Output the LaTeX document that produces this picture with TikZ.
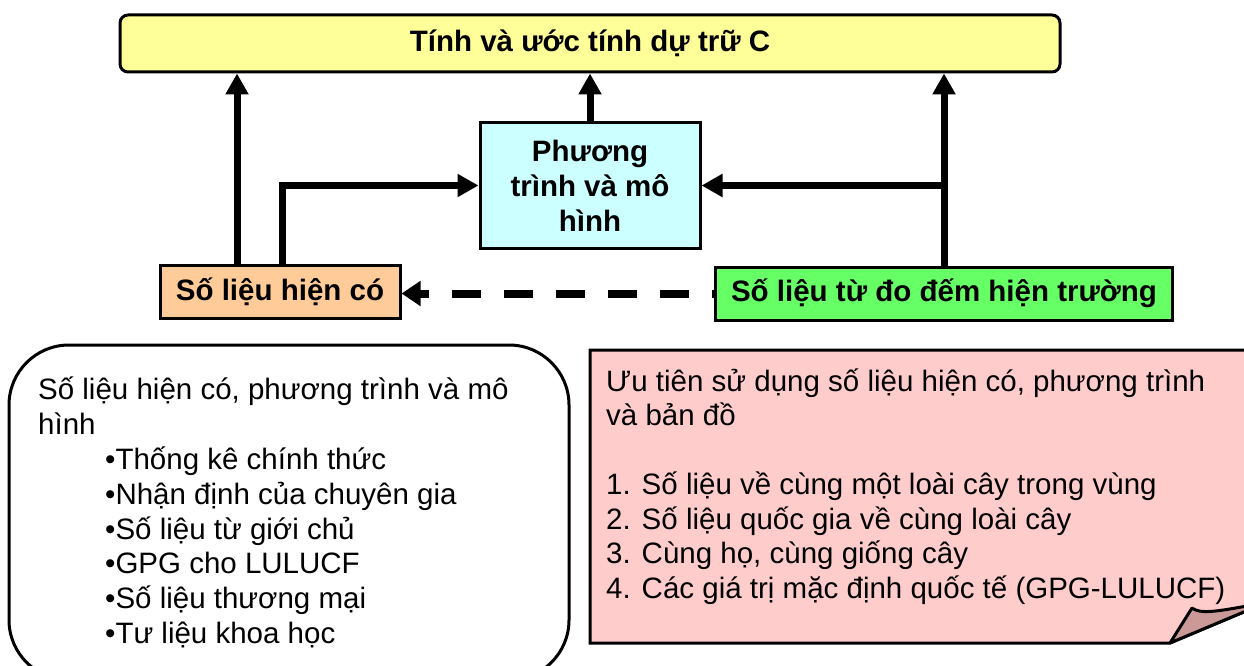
\documentclass[tikz,border=0pt]{standalone}
\usepackage{fontspec}
\setmainfont{Liberation Sans}
\usetikzlibrary{arrows.meta}
\definecolor{titlefill}{HTML}{FFFF99}
\definecolor{modelfill}{HTML}{CCFFFF}
\definecolor{availfill}{HTML}{FFCC99}
\definecolor{fieldfill}{HTML}{66FF66}
\definecolor{notefill}{HTML}{FFCCCC}
\definecolor{foldfill}{HTML}{CC9999}
\begin{document}
\begin{tikzpicture}[x=1pt,y=-1pt,
  bx/.style={draw=black, line width=3pt, inner sep=0pt, align=center,
    font=\bfseries\fontsize{29.5}{35}\selectfont},
  txt/.style={inner sep=0pt, anchor=base west, font=\fontsize{29.5}{35}\selectfont},
  flow/.style={line width=7pt, -{Triangle[length=21pt,width=22pt]}},
  dasharrow/.style={line width=8pt, dash pattern=on 29pt off 23pt, dash phase=27pt,
    -{Triangle[length=19pt,width=24pt]}}]
\useasboundingbox (0,0) rectangle (1244,666);
\clip (0,0) rectangle (1244,666);

% boxes of the flow chart
\node[bx, fill=titlefill, rounded corners=8pt, minimum width=940pt, minimum height=57pt]
  (title) at (590,43.5) {Tính và ước tính dự trữ C};
\node[bx, fill=modelfill, minimum width=220pt, minimum height=125pt]
  (model) at (590,185.5) {Phương\\trình và mô\\hình};
\node[bx, fill=availfill, minimum width=240pt, minimum height=53pt]
  (avail) at (280,291.5) {Số liệu hiện có};
\node[bx, fill=fieldfill, minimum width=457pt, minimum height=53pt]
  (field) at (944,293.5) {Số liệu từ đo đếm hiện trường};

% connectors
\coordinate (la) at ([xshift=-43pt]avail.north);
\coordinate (lb) at ([xshift=2pt]avail.north);
\draw[flow] (la) -- (la |- title.south);
\draw[flow] (lb) |- (model.west);
\draw[flow] (model.north) -- (model.north |- title.south);
\draw[flow] (field.north) -- (field.north |- title.south);
\draw[flow] (field.north |- model.east) -- (model.east);
\draw[dasharrow] (field.west) -- (field.west -| avail.east);

% sources box
\node[draw=black, line width=3pt, fill=white, rounded corners=60pt, inner sep=0pt,
  minimum width=560pt, minimum height=335pt] (srcbox) at (289,512.5) {};
\node[txt] (s1) at (38,399) {Số liệu hiện có, phương trình và mô};
\node[txt] (s2) at (38,434) {hình};
\node[txt] (s3) at (105,469) {•Thống kê chính thức};
\node[txt] (s4) at (105,504) {•Nhận định của chuyên gia};
\node[txt] (s5) at (105,539) {•Số liệu từ giới chủ};
\node[txt] (s6) at (105,573.5) {•GPG cho LULUCF};
\node[txt] (s7) at (105,608) {•Số liệu thương mại};
\node[txt] (s8) at (105,643) {•Tư liệu khoa học};

% priority note with a curled corner
\draw[line width=3pt, fill=notefill, line join=miter]
  (590,350) -- (1252,350) -- (1252,608.5) -- (1170,643) -- (590,643) -- cycle;
\draw[line width=3pt, fill=foldfill, line join=round]
  (1170,643) -- (1192,608) .. controls (1200,614) and (1215,612) .. (1252,605)
  -- (1252,608.5) -- cycle;
\node[txt] (p1) at (606,391) {Ưu tiên sử dụng số liệu hiện có, phương trình};
\node[txt] (p2) at (606,425.5) {và bản đồ};
\node[txt] (p3) at (606,494.5) {1. Số liệu về cùng một loài cây trong vùng};
\node[txt] (p4) at (606,529) {2. Số liệu quốc gia về cùng loài cây};
\node[txt] (p5) at (606,563.5) {3. Cùng họ, cùng giống cây};
\node[txt] (p6) at (606,598) {4. Các giá trị mặc định quốc tế (GPG-LULUCF)};
\end{tikzpicture}
\end{document}
